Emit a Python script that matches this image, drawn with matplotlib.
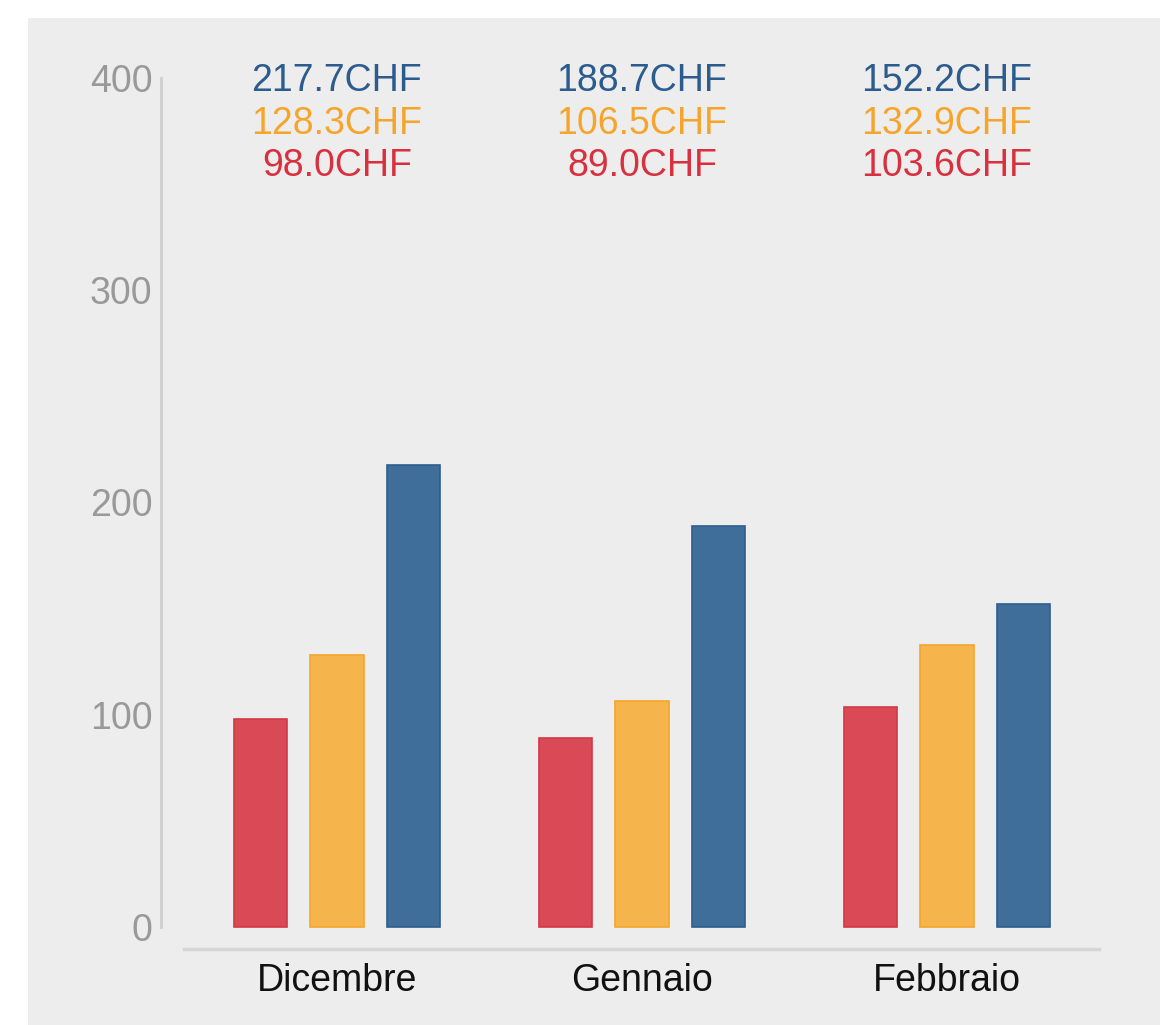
import matplotlib.pyplot as plt
from matplotlib.patches import Rectangle

months = ["Dicembre", "Gennaio", "Febbraio"]
red_values = [98.0, 89.0, 103.6]
orange_values = [128.3, 106.5, 132.9]
blue_values = [217.7, 188.7, 152.2]
y_ticks = [0, 100, 200, 300, 400]

RED, RED_EDGE = "#d94a56", "#d23845"
ORANGE, ORANGE_EDGE = "#f6b44d", "#f5a62a"
BLUE, BLUE_EDGE = "#3f6e9b", "#2f5e8c"
PANEL = "#ededed"

plt.rcParams["font.family"] = ["Liberation Sans", "DejaVu Sans"]

fig = plt.figure(figsize=(11.75, 10.25), dpi=100)
fig.patch.set_facecolor("white")
# gray panel behind the chart
fig.patches.append(Rectangle((28 / 1175, 0), (1160 - 28) / 1175, (1025 - 18) / 1025,
                             transform=fig.transFigure, facecolor=PANEL,
                             edgecolor="none", zorder=-5))

ax = fig.add_axes([161 / 1175, 76 / 1025, (1100 - 161) / 1175, (949 - 78) / 1025])
ax.set_zorder(2)
ax.set_facecolor("none")

pitch = 0.251
width = 0.176
x = list(range(len(months)))
series = [
    (red_values, -pitch, RED, RED_EDGE),
    (orange_values, 0.0, ORANGE, ORANGE_EDGE),
    (blue_values, pitch, BLUE, BLUE_EDGE),
]
for values, offset, color, edge in series:
    ax.bar([i + offset for i in x], values, width=width, color=color,
           edgecolor=edge, linewidth=1.2, zorder=3)

ax.set_xlim(-0.577, 2.502)
ax.set_ylim(-10.4, 400)

# value labels stacked at the top of each group
label_rows = [(blue_values, 398.5, "#2c5b8e"), (orange_values, 378.4, "#f5a52b"),
              (red_values, 358.4, "#d8303f")]
for values, ypos, color in label_rows:
    for i, v in enumerate(values):
        ax.text(i, ypos, f"{v:.1f}CHF", ha="center", va="center",
                fontsize=27, color=color, clip_on=False)

ax.set_yticks(y_ticks)
ax.set_xticks(x)
ax.set_xticklabels(months)
ax.tick_params(axis="y", length=0, pad=6, labelsize=27, labelcolor="#999999")
ax.tick_params(axis="x", length=0, pad=10, labelsize=27, labelcolor="#111111")

for side in ["top", "right"]:
    ax.spines[side].set_visible(False)
ax.spines["left"].set_bounds(0, 400)
ax.spines["left"].set_color("#cfcfcf")
ax.spines["left"].set_linewidth(2)
ax.spines["bottom"].set_bounds(-0.5, 2.5)
ax.spines["bottom"].set_color("#d6d6d6")
ax.spines["bottom"].set_linewidth(2.5)

fig.savefig("out.png", dpi=100, facecolor=fig.get_facecolor())
